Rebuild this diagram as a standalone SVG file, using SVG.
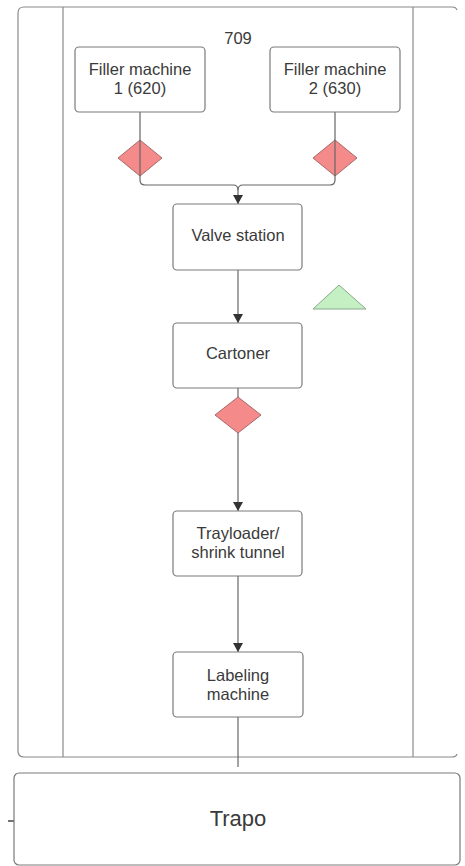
<svg xmlns="http://www.w3.org/2000/svg" width="465" height="866" viewBox="0 0 465 866">
<style>
.box{fill:#fff;stroke:#7a7a7a;stroke-width:1.2}
.lane{fill:none;stroke:#8a8a8a;stroke-width:1.2}
.t{font-family:"Liberation Sans",Arial,sans-serif;font-size:16.5px;fill:#3a3a3a;text-anchor:middle}
.dia{fill:#f48a8a;stroke:#a86a6a;stroke-width:1}
.tri{fill:#c4f0c4;stroke:#8aa88a;stroke-width:1}
.c{fill:none;stroke:#666;stroke-width:1.2}
</style>
<defs>
<marker id="ah" markerWidth="10" markerHeight="10" refX="9" refY="5" orient="auto" markerUnits="userSpaceOnUse">
<path d="M0,0 L9,5 L0,10 Z" fill="#333"/>
</marker>
</defs>
<rect width="465" height="866" fill="#fff"/>
<g id="container">
<path class="lane" d="M457,10 Q456,7 452,7 H24 Q18,7 18,13 V751 Q18,757 24,757 H452 Q456,757 457,754"/>
<line class="lane" x1="63" y1="7" x2="63" y2="757"/>
<line class="lane" x1="413" y1="7" x2="413" y2="757"/>
<text class="t" x="238" y="44">709</text>
</g>
<g id="connectors">
<path class="c" d="M140,112 V180 Q140,185 145,185 H233 Q238,185 238,190 V204" marker-end="url(#ah)"/>
<path class="c" d="M335,112 V180 Q335,185 330,185 H243 Q238,185 238,190"/>
<path class="c" d="M238,270 V323" marker-end="url(#ah)"/>
<path class="c" d="M238,388 V397"/>
<path class="c" d="M238,433 V511" marker-end="url(#ah)"/>
<path class="c" d="M238,576 V652" marker-end="url(#ah)"/>
<path class="c" d="M238,717 V767"/>
<path d="M8,821 H14" stroke="#444" stroke-width="1.5"/>
</g>
<g id="filler1">
<rect class="box" x="75" y="47" width="130" height="65" rx="4"/>
<text class="t" x="140" y="75">Filler machine</text>
<text class="t" x="140" y="94">1 (620)</text>
</g>
<g id="filler2">
<rect class="box" x="270" y="47" width="130" height="65" rx="4"/>
<text class="t" x="335" y="75">Filler machine</text>
<text class="t" x="335" y="94">2 (630)</text>
</g>
<g id="diamond1">
<path class="dia" d="M140,140 L162,158 L140,176 L118,158 Z" stroke-linejoin="round"/>
<line class="c" x1="140" y1="140" x2="140" y2="176"/>
</g>
<g id="diamond2">
<path class="dia" d="M335,140 L357,158 L335,176 L313,158 Z" stroke-linejoin="round"/>
<line class="c" x1="335" y1="140" x2="335" y2="176"/>
</g>
<g id="valve">
<rect class="box" x="173" y="204" width="129" height="66" rx="4"/>
<text class="t" x="238" y="241">Valve station</text>
</g>
<g id="triangle">
<path class="tri" d="M339,285 L366,309 L313,309 Z" stroke-linejoin="round"/>
</g>
<g id="cartoner">
<rect class="box" x="173" y="323" width="129" height="65" rx="4"/>
<text class="t" x="238" y="359">Cartoner</text>
</g>
<g id="diamond3">
<path class="dia" d="M238,397 L261,415 L238,433 L215,415 Z" stroke-linejoin="round"/>
</g>
<g id="trayloader">
<rect class="box" x="173" y="511" width="129" height="65" rx="4"/>
<text class="t" x="238" y="539">Trayloader/</text>
<text class="t" x="238" y="558">shrink tunnel</text>
</g>
<g id="labeling">
<rect class="box" x="173" y="652" width="130" height="65" rx="4"/>
<text class="t" x="238" y="681">Labeling</text>
<text class="t" x="238" y="700">machine</text>
</g>
<g id="trapo">
<rect class="box" x="14" y="773" width="446" height="92" rx="5"/>
<text class="t" x="238" y="826" style="font-size:22px">Trapo</text>
</g>
</svg>
